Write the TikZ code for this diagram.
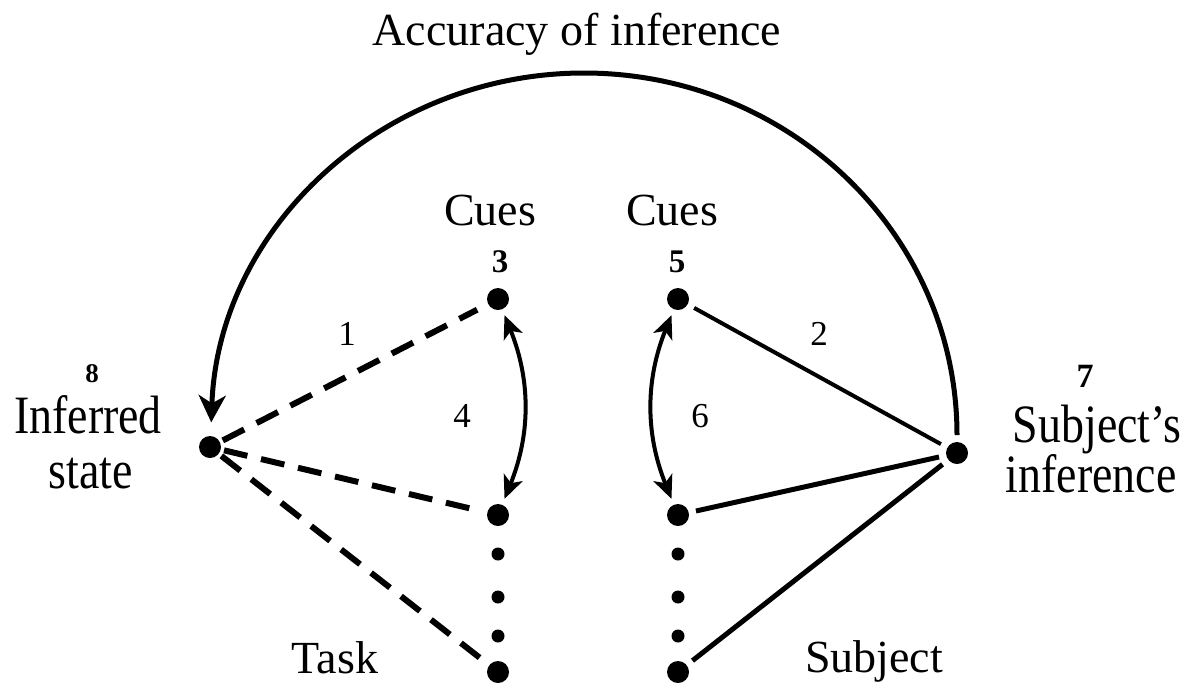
\documentclass[tikz,border=0pt]{standalone}
\usepackage{fontspec}
\setmainfont{Liberation Serif}
\newfontfamily\sidefont[FakeStretch=0.85]{Liberation Serif}
\usetikzlibrary{arrows.meta}

\tikzset{
  bigdot/.style={circle,fill=black,inner sep=0pt,minimum size=11pt},
  smalldot/.style={circle,fill=black,inner sep=0pt,minimum size=6.5pt},
  lbl/.style={font=\fontsize{23}{23}\selectfont,anchor=base,inner sep=0pt},
  sidelbl/.style={font=\sidefont\fontsize{27}{27}\selectfont,anchor=base,inner sep=0pt},
  num/.style={font=\fontsize{17.5}{17.5}\selectfont,anchor=base,inner sep=0pt},
  bnum/.style={font=\bfseries\fontsize{16.5}{16.5}\selectfont,anchor=base,inner sep=0pt},
  taskln/.style={line width=3pt,dash pattern=on 12pt off 7pt,shorten <=1.5pt,shorten >=6pt},
  subjln/.style={line width=2.5pt,shorten <=3.5pt,shorten >=3.5pt},
  link/.style={line width=2pt,{Stealth[length=11.5pt,width=10pt,inset=3pt]}-{Stealth[length=11.5pt,width=10pt,inset=3pt]},shorten <=3pt,shorten >=3pt}
}

\begin{document}
\begin{tikzpicture}[x=0.5pt,y=-0.5pt]
  \useasboundingbox (0,0) rectangle (1199,682);
  % dots
  \node[bigdot] (infer) at (210,447) {};
  \node[bigdot] (subj) at (957,453) {};
  \node[bigdot] (cueTa) at (498,299) {};
  \node[bigdot] (cueTb) at (498,515) {};
  \node[bigdot] (cueTz) at (498,672) {};
  \node[bigdot] (cueSa) at (678,299) {};
  \node[bigdot] (cueSb) at (678,515) {};
  \node[bigdot] (cueSz) at (678,672) {};
  \foreach \i/\y in {1/554,2/597,3/636} {\node[smalldot] (dotT\i) at (498,\y) {}; \node[smalldot] (dotS\i) at (678,\y) {};}
  % labels
  \node[lbl] (acc) at (577,45) {Accuracy of inference};
  \node[lbl] (cuesT) at (490,225) {Cues};
  \node[lbl] (cuesS) at (672,225) {Cues};
  \node[lbl] (task) at (335,673) {Task};
  \node[lbl] (subject) at (874,672) {Subject};
  \node[sidelbl] (inferA) at (88,433) {Inferred};
  \node[sidelbl] (inferB) at (91,488) {state};
  \node[sidelbl] (subjA) at (1097,442) {Subject’s};
  \node[sidelbl] (subjB) at (1091,492) {inference};
  \node[bnum] (n3) at (500,272) {3};
  \node[bnum] (n5) at (677,272) {5};
  \node[bnum,font=\bfseries\fontsize{17}{17}\selectfont] (n7) at (1085,387) {7};
  \node[bnum,font=\bfseries\fontsize{13.5}{13.5}\selectfont] (n8) at (92,382) {8};
  \node[num] (n1) at (347,345) {1};
  \node[num] (n4) at (462,427) {4};
  \node[num] (n2) at (819,345) {2};
  \node[num] (n6) at (700,427) {6};
  % task side
  \draw[taskln] (infer) -- (cueTa);
  \draw[taskln] (infer) -- (cueTb);
  \draw[taskln] (infer) -- (cueTz);
  \draw[link] (cueTa) to[bend left=22] (cueTb);
  % subject side
  \draw[subjln,line width=2pt] (cueSa) -- (subj);
  \draw[subjln] (cueSb) -- (subj);
  \draw[subjln] (cueSz) -- (subj);
  \draw[link] (cueSa) to[bend right=22] (cueSb);
  % accuracy arc
  \draw[line width=2.5pt,-{Stealth[length=13.5pt,width=13.5pt,inset=4pt]}] ([yshift=9pt]subj.center) arc[start angle=0,end angle=-178,x radius=373,y radius=362];
\end{tikzpicture}
\end{document}
